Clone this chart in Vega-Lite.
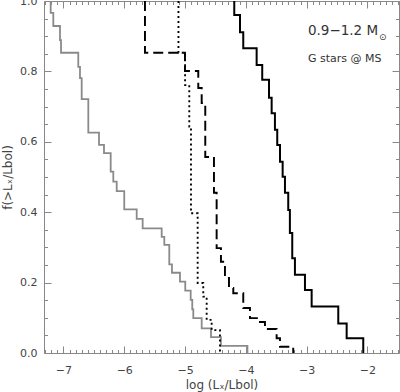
{
  "$schema": "https://vega.github.io/schema/vega-lite/v6.json",
  "width": 355,
  "height": 352,
  "autosize": {"type": "none"},
  "padding": {"left": 44, "top": 1, "right": 1, "bottom": 39},
  "background": "white",
  "config": {
    "view": {"stroke": null},
    "font": "DejaVu Sans",
    "axis": {
      "domainColor": "#888888",
      "tickColor": "#888888",
      "labelColor": "#444444",
      "titleColor": "#444444",
      "labelFont": "DejaVu Sans",
      "titleFont": "DejaVu Sans",
      "labelFontSize": 11,
      "titleFontSize": 12,
      "titleFontWeight": "normal",
      "grid": false,
      "labelOverlap": false,
      "labelBound": false,
      "labelFlush": false
    }
  },
  "datasets": {
    "curves": [
      {"i": 0, "s": "g", "x": -7.21, "f": 1.0},
      {"i": 1, "s": "g", "x": -7.21, "f": 0.966},
      {"i": 2, "s": "g", "x": -7.167, "f": 0.929},
      {"i": 3, "s": "g", "x": -7.057, "f": 0.889},
      {"i": 4, "s": "g", "x": -7.04, "f": 0.853},
      {"i": 5, "s": "g", "x": -6.756, "f": 0.813},
      {"i": 6, "s": "g", "x": -6.728, "f": 0.781},
      {"i": 7, "s": "g", "x": -6.70, "f": 0.721},
      {"i": 8, "s": "g", "x": -6.591, "f": 0.626},
      {"i": 9, "s": "g", "x": -6.415, "f": 0.591},
      {"i": 10, "s": "g", "x": -6.333, "f": 0.568},
      {"i": 11, "s": "g", "x": -6.223, "f": 0.515},
      {"i": 12, "s": "g", "x": -6.18, "f": 0.487},
      {"i": 13, "s": "g", "x": -6.124, "f": 0.460},
      {"i": 14, "s": "g", "x": -6.0, "f": 0.408},
      {"i": 15, "s": "g", "x": -5.795, "f": 0.381},
      {"i": 16, "s": "g", "x": -5.697, "f": 0.354},
      {"i": 17, "s": "g", "x": -5.384, "f": 0.330},
      {"i": 18, "s": "g", "x": -5.341, "f": 0.307},
      {"i": 19, "s": "g", "x": -5.259, "f": 0.252},
      {"i": 20, "s": "g", "x": -5.215, "f": 0.228},
      {"i": 21, "s": "g", "x": -5.083, "f": 0.203},
      {"i": 22, "s": "g", "x": -4.996, "f": 0.177},
      {"i": 23, "s": "g", "x": -4.907, "f": 0.151},
      {"i": 24, "s": "g", "x": -4.881, "f": 0.124},
      {"i": 25, "s": "g", "x": -4.864, "f": 0.099},
      {"i": 26, "s": "g", "x": -4.726, "f": 0.070},
      {"i": 27, "s": "g", "x": -4.573, "f": 0.045},
      {"i": 28, "s": "g", "x": -4.409, "f": 0.020},
      {"i": 29, "s": "g", "x": -3.973, "f": 0.0},
      {"i": 30, "s": "d", "x": -5.108, "f": 1.0},
      {"i": 31, "s": "d", "x": -5.108, "f": 0.853},
      {"i": 32, "s": "d", "x": -4.999, "f": 0.761},
      {"i": 33, "s": "d", "x": -4.93, "f": 0.643},
      {"i": 34, "s": "d", "x": -4.902, "f": 0.397},
      {"i": 35, "s": "d", "x": -4.792, "f": 0.199},
      {"i": 36, "s": "d", "x": -4.70, "f": 0.160},
      {"i": 37, "s": "d", "x": -4.644, "f": 0.094},
      {"i": 38, "s": "d", "x": -4.562, "f": 0.065},
      {"i": 39, "s": "d", "x": -4.425, "f": 0.0},
      {"i": 40, "s": "a", "x": -5.659, "f": 1.0},
      {"i": 41, "s": "a", "x": -5.659, "f": 0.853},
      {"i": 42, "s": "a", "x": -5.001, "f": 0.801},
      {"i": 43, "s": "a", "x": -4.782, "f": 0.753},
      {"i": 44, "s": "a", "x": -4.726, "f": 0.710},
      {"i": 45, "s": "a", "x": -4.667, "f": 0.557},
      {"i": 46, "s": "a", "x": -4.524, "f": 0.455},
      {"i": 47, "s": "a", "x": -4.48, "f": 0.298},
      {"i": 48, "s": "a", "x": -4.409, "f": 0.259},
      {"i": 49, "s": "a", "x": -4.343, "f": 0.213},
      {"i": 50, "s": "a", "x": -4.277, "f": 0.185},
      {"i": 51, "s": "a", "x": -4.206, "f": 0.170},
      {"i": 52, "s": "a", "x": -4.042, "f": 0.128},
      {"i": 53, "s": "a", "x": -3.932, "f": 0.099},
      {"i": 54, "s": "a", "x": -3.767, "f": 0.088},
      {"i": 55, "s": "a", "x": -3.685, "f": 0.068},
      {"i": 56, "s": "a", "x": -3.493, "f": 0.042},
      {"i": 57, "s": "a", "x": -3.438, "f": 0.018},
      {"i": 58, "s": "a", "x": -3.22, "f": 0.0},
      {"i": 59, "s": "k", "x": -4.19, "f": 1.0},
      {"i": 60, "s": "k", "x": -4.19, "f": 0.960},
      {"i": 61, "s": "k", "x": -4.096, "f": 0.911},
      {"i": 62, "s": "k", "x": -4.042, "f": 0.866},
      {"i": 63, "s": "k", "x": -3.822, "f": 0.818},
      {"i": 64, "s": "k", "x": -3.73, "f": 0.776},
      {"i": 65, "s": "k", "x": -3.619, "f": 0.725},
      {"i": 66, "s": "k", "x": -3.575, "f": 0.681},
      {"i": 67, "s": "k", "x": -3.521, "f": 0.634},
      {"i": 68, "s": "k", "x": -3.483, "f": 0.591},
      {"i": 69, "s": "k", "x": -3.438, "f": 0.543},
      {"i": 70, "s": "k", "x": -3.394, "f": 0.501},
      {"i": 71, "s": "k", "x": -3.356, "f": 0.455},
      {"i": 72, "s": "k", "x": -3.302, "f": 0.406},
      {"i": 73, "s": "k", "x": -3.275, "f": 0.341},
      {"i": 74, "s": "k", "x": -3.236, "f": 0.269},
      {"i": 75, "s": "k", "x": -3.192, "f": 0.222},
      {"i": 76, "s": "k", "x": -3.027, "f": 0.179},
      {"i": 77, "s": "k", "x": -2.917, "f": 0.132},
      {"i": 78, "s": "k", "x": -2.479, "f": 0.084},
      {"i": 79, "s": "k", "x": -2.341, "f": 0.042},
      {"i": 80, "s": "k", "x": -2.068, "f": 0.0}
    ],
    "one": [{"n": 1}]
  },
  "layer": [
    {
      "data": {"name": "curves"},
      "mark": {"type": "line", "interpolate": "step-after", "clip": false},
      "encoding": {
        "x": {
          "field": "x", "type": "quantitative",
          "scale": {"domain": [-7.32, -1.48], "nice": false, "zero": false},
          "axis": {
            "orient": "bottom",
            "title": "log (Lₓ/Lbol)",
            "titlePadding": 4,
            "values": [-7, -6, -5, -4, -3, -2],
            "format": "d",
            "ticks": false,
            "labelPadding": 11
          }
        },
        "y": {
          "field": "f", "type": "quantitative",
          "scale": {"domain": [0, 1], "nice": false},
          "axis": {
            "orient": "left",
            "title": "f(>Lₓ/Lbol)",
            "titlePadding": 5,
            "values": [0, 0.2, 0.4, 0.6, 0.8, 1],
            "format": ".1f",
            "ticks": false,
            "labelPadding": 7
          }
        },
        "color": {"field": "s", "type": "nominal", "legend": null,
          "scale": {"domain": ["g", "d", "a", "k"], "range": ["#8a8a8a", "#000000", "#000000", "#000000"]}},
        "strokeDash": {"field": "s", "type": "nominal", "legend": null,
          "scale": {"domain": ["g", "d", "a", "k"], "range": [[1, 0], [2, 3], [10, 5], [1, 0]]}},
        "strokeWidth": {"field": "s", "type": "nominal", "legend": null,
          "scale": {"domain": ["g", "d", "a", "k"], "range": [1.8, 2, 2.5, 3.2]}},
        "order": {"field": "i", "type": "quantitative"}
      }
    },
    {
      "data": {"name": "one"},
      "mark": {"type": "point", "opacity": 0},
      "encoding": {
        "x": {"datum": -3, "type": "quantitative",
          "axis": {"orient": "bottom", "title": null, "labels": false, "domain": false, "tickSize": -7,
            "values": [-7, -6, -5, -4, -3, -2]}},
        "y": {"datum": 0.5, "type": "quantitative",
          "axis": {"orient": "left", "title": null, "labels": false, "domain": false, "tickSize": -7,
            "values": [0, 0.2, 0.4, 0.6, 0.8, 1]}}
      }
    },
    {
      "data": {"name": "one"},
      "mark": {"type": "point", "opacity": 0},
      "encoding": {
        "x": {"datum": -3, "type": "quantitative",
          "axis": {"orient": "bottom", "title": null, "labels": false, "domain": false, "tickSize": -3.5,
            "values": [-7.3,-7.2,-7.1,-6.9,-6.8,-6.7,-6.6,-6.5,-6.4,-6.3,-6.2,-6.1,-5.9,-5.8,-5.7,-5.6,-5.5,-5.4,-5.3,-5.2,-5.1,-4.9,-4.8,-4.7,-4.6,-4.5,-4.4,-4.3,-4.2,-4.1,-3.9,-3.8,-3.7,-3.6,-3.5,-3.4,-3.3,-3.2,-3.1,-2.9,-2.8,-2.7,-2.6,-2.5,-2.4,-2.3,-2.2,-2.1,-1.9,-1.8,-1.7,-1.6,-1.5]}},
        "y": {"datum": 0.5, "type": "quantitative",
          "axis": {"orient": "left", "title": null, "labels": false, "domain": false, "tickSize": -3.5,
            "values": [0.05,0.1,0.15,0.25,0.3,0.35,0.45,0.5,0.55,0.65,0.7,0.75,0.85,0.9,0.95]}}
      }
    },
    {
      "data": {"name": "one"},
      "mark": {"type": "point", "opacity": 0},
      "encoding": {
        "x": {"datum": -3, "type": "quantitative",
          "axis": {"orient": "top", "title": null, "labels": false, "tickSize": -7,
            "values": [-7, -6, -5, -4, -3, -2]}},
        "y": {"datum": 0.5, "type": "quantitative",
          "axis": {"orient": "right", "title": null, "labels": false, "tickSize": -7,
            "values": [0, 0.2, 0.4, 0.6, 0.8, 1]}}
      }
    },
    {
      "data": {"name": "one"},
      "mark": {"type": "point", "opacity": 0},
      "encoding": {
        "x": {"datum": -3, "type": "quantitative",
          "axis": {"orient": "top", "title": null, "labels": false, "domain": false, "tickSize": -3.5,
            "values": [-7.3,-7.2,-7.1,-6.9,-6.8,-6.7,-6.6,-6.5,-6.4,-6.3,-6.2,-6.1,-5.9,-5.8,-5.7,-5.6,-5.5,-5.4,-5.3,-5.2,-5.1,-4.9,-4.8,-4.7,-4.6,-4.5,-4.4,-4.3,-4.2,-4.1,-3.9,-3.8,-3.7,-3.6,-3.5,-3.4,-3.3,-3.2,-3.1,-2.9,-2.8,-2.7,-2.6,-2.5,-2.4,-2.3,-2.2,-2.1,-1.9,-1.8,-1.7,-1.6,-1.5]}},
        "y": {"datum": 0.5, "type": "quantitative",
          "axis": {"orient": "right", "title": null, "labels": false, "domain": false, "tickSize": -3.5,
            "values": [0.05,0.1,0.15,0.25,0.3,0.35,0.45,0.5,0.55,0.65,0.7,0.75,0.85,0.9,0.95]}}
      }
    },
    {
      "data": {"name": "one"},
      "mark": {"type": "text", "align": "left", "baseline": "alphabetic", "fontSize": 13.5, "color": "#333333", "font": "DejaVu Sans"},
      "encoding": {
        "x": {"datum": -2.978, "type": "quantitative", "axis": null},
        "y": {"datum": 0.903, "type": "quantitative", "axis": null},
        "text": {"value": "0.9−1.2 M"}
      }
    },
    {
      "data": {"name": "one"},
      "mark": {"type": "text", "align": "left", "baseline": "alphabetic", "fontSize": 9, "color": "#333333", "font": "DejaVu Sans"},
      "encoding": {
        "x": {"datum": -1.81, "type": "quantitative", "axis": null},
        "y": {"datum": 0.89, "type": "quantitative", "axis": null},
        "text": {"value": "⊙"}
      }
    },
    {
      "data": {"name": "one"},
      "mark": {"type": "text", "align": "left", "baseline": "alphabetic", "fontSize": 11, "color": "#333333", "font": "DejaVu Sans"},
      "encoding": {
        "x": {"datum": -2.978, "type": "quantitative", "axis": null},
        "y": {"datum": 0.828, "type": "quantitative", "axis": null},
        "text": {"value": "G stars @ MS"}
      }
    }
  ],
  "resolve": {"axis": {"x": "independent", "y": "independent"}}
}
